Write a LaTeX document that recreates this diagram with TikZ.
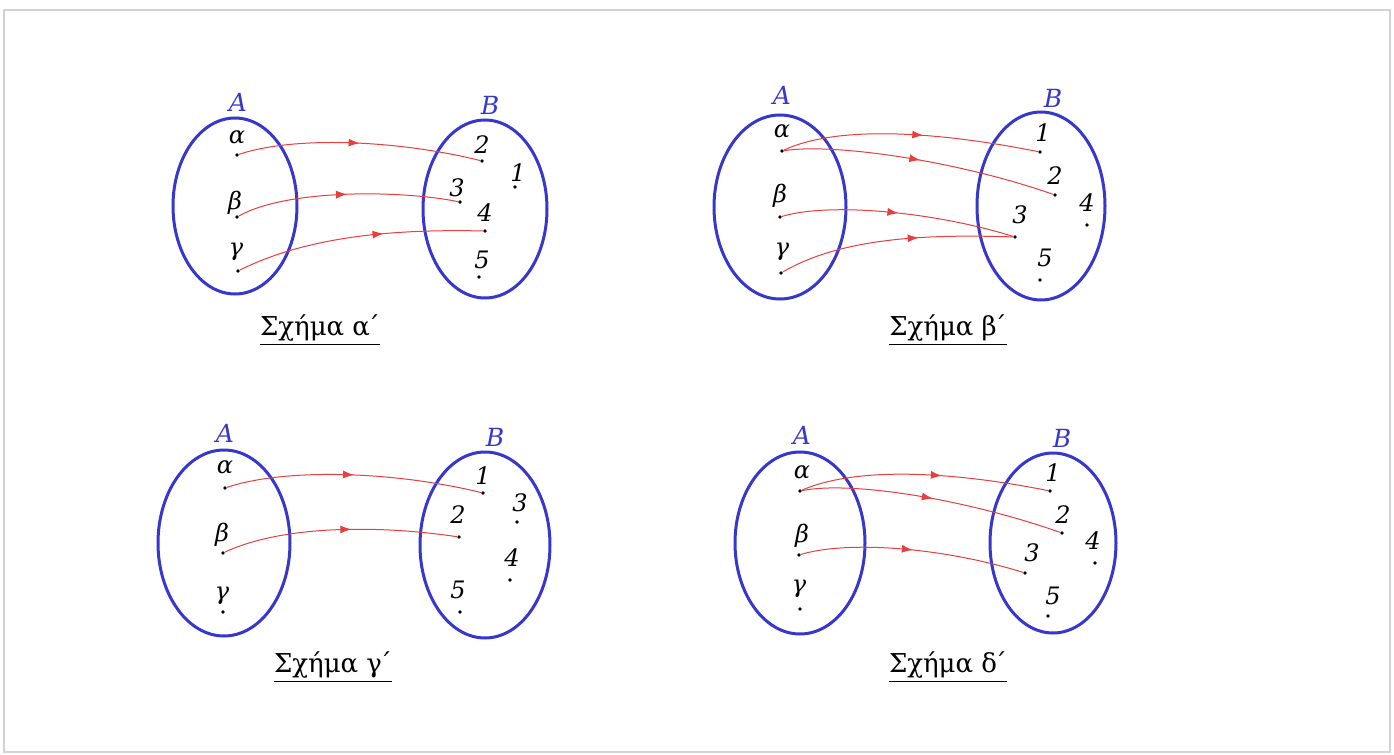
\documentclass[tikz,border=0pt]{standalone}
\usepackage{fontspec}
\setmainfont{DejaVu Serif}
\usetikzlibrary{arrows.meta,positioning,decorations.markings}

\definecolor{setblue}{RGB}{55,55,205}
\definecolor{mapred}{RGB}{232,62,62}
\newcommand{\prim}{\kern-0.12em΄}

\begin{document}
\begin{tikzpicture}[x=0.5pt,y=-0.5pt,
 set/.style={draw=setblue,line width=1.5pt},
 setname/.style={text=setblue,font=\fontsize{12.5}{12.5}\selectfont\itshape,inner sep=0pt},
 dot/.style={circle,fill=black,inner sep=0pt,minimum size=1.8pt},
 elt/.style={font=\fontsize{12}{12}\selectfont\itshape,inner sep=0pt},
 map/.style={mapred,line width=0.5pt,postaction={decorate},
  decoration={markings,mark=at position #1 with {\arrow{Latex[length=5.5pt,width=4pt]}}}},
 map/.default=0.5,
 caption/.style={font=\fontsize{13}{13}\selectfont,inner sep=0pt}]
\useasboundingbox (0,0) rectangle (1394,755);
\draw[gray!35,line width=0.6pt] (4,10) rectangle (1390,752);

% Sxhma a
\draw[set] (235,206) ellipse [x radius=62, y radius=88];
\draw[set] (485,209) ellipse [x radius=62, y radius=89];
\node[setname] (Aa) at (238,102) {A};
\node[setname] (Ba) at (490,105) {B};
\node[dot] (aal) at (237,155) {}; \node[elt] (taal) at (237,137) {α};
\node[dot] (abe) at (237,217) {}; \node[elt] (tabe) at (235,203) {β};
\node[dot] (aga) at (238,271) {}; \node[elt] (taga) at (236,252) {γ};
\node[dot] (a1) at (515,187) {}; \node[elt] (ta1) at (518,173) {1};
\node[dot] (a2) at (482,161) {}; \node[elt] (ta2) at (482,145) {2};
\node[dot] (a3) at (460,202) {}; \node[elt] (ta3) at (457,188) {3};
\node[dot] (a4) at (485,231) {}; \node[elt] (ta4) at (485,213) {4};
\node[dot] (a5) at (479,277) {}; \node[elt] (ta5) at (482,260) {5};
\draw[map] (aal) .. controls +(60,-20) and +(-80,-20) .. (a2);
\draw[map] (abe) .. controls +(50,-28) and +(-60,-12) .. (a3);
\draw[map=0.6] (aga) .. controls +(70,-35) and +(-90,-2) .. (a4);
\node[caption] (capa) at (320,330) {\underline{Σχήμα α\prim}};

% Sxhma b
\draw[set] (780,207) ellipse [x radius=66, y radius=92];
\draw[set] (1041,206) ellipse [x radius=64, y radius=94];
\node[setname] (Ab) at (782,95) {A};
\node[setname] (Bb) at (1053,98) {B};
\node[dot] (bal) at (782,151) {}; \node[elt] (tbal) at (782,131) {α};
\node[dot] (bbe) at (780,217) {}; \node[elt] (tbbe) at (780,196) {β};
\node[dot] (bga) at (781,273) {}; \node[elt] (tbga) at (782,252) {γ};
\node[dot] (b1) at (1040,152) {}; \node[elt] (tb1) at (1043,133) {1};
\node[dot] (b2) at (1055,195) {}; \node[elt] (tb2) at (1055,176) {2};
\node[dot] (b3) at (1015,237) {}; \node[elt] (tb3) at (1020,215) {3};
\node[dot] (b4) at (1087,225) {}; \node[elt] (tb4) at (1087,203) {4};
\node[dot] (b5) at (1040,280) {}; \node[elt] (tb5) at (1045,258) {5};
\draw[map=0.55] (bal) .. controls +(60,-28) and +(-90,-18) .. (b1);
\draw[map] (bal) .. controls +(50,-8) and +(-100,-35) .. (b2);
\draw[map] (bbe) .. controls +(50,-15) and +(-80,-25) .. (b3);
\draw[map=0.6] (bga) .. controls +(60,-35) and +(-90,-3) .. (b3);
\node[caption] (capb) at (948,330) {\underline{Σχήμα β\prim}};

% Sxhma g
\draw[set] (224,543) ellipse [x radius=66, y radius=93];
\draw[set] (485,545) ellipse [x radius=65, y radius=93];
\node[setname] (Ac) at (225,433) {A};
\node[setname] (Bc) at (495,437) {B};
\node[dot] (cal) at (225,488) {}; \node[elt] (tcal) at (225,467) {α};
\node[dot] (cbe) at (223,553) {}; \node[elt] (tcbe) at (222,535) {β};
\node[dot] (cga) at (223,612) {}; \node[elt] (tcga) at (222,596) {γ};
\node[dot] (c1) at (483,493) {}; \node[elt] (tc1) at (483,476) {1};
\node[dot] (c2) at (459,537) {}; \node[elt] (tc2) at (458,515) {2};
\node[dot] (c3) at (517,522) {}; \node[elt] (tc3) at (520,503) {3};
\node[dot] (c4) at (510,580) {}; \node[elt] (tc4) at (512,558) {4};
\node[dot] (c5) at (460,612) {}; \node[elt] (tc5) at (458,590) {5};
\draw[map] (cal) .. controls +(60,-20) and +(-90,-22) .. (c1);
\draw[map=0.55] (cbe) .. controls +(60,-28) and +(-80,-12) .. (c2);
\node[caption] (capc) at (333,667) {\underline{Σχήμα γ\prim}};

% Sxhma d
\draw[set] (800,543) ellipse [x radius=65, y radius=91];
\draw[set] (1053,543) ellipse [x radius=63, y radius=90];
\node[setname] (Ad) at (802,435) {A};
\node[setname] (Bd) at (1062,438) {B};
\node[dot] (dal) at (800,491) {}; \node[elt] (tdal) at (802,472) {α};
\node[dot] (dbe) at (799,555) {}; \node[elt] (tdbe) at (802,536) {β};
\node[dot] (dga) at (800,609) {}; \node[elt] (tdga) at (799,589) {γ};
\node[dot] (d1) at (1050,491) {}; \node[elt] (td1) at (1053,473) {1};
\node[dot] (d2) at (1062,533) {}; \node[elt] (td2) at (1063,515) {2};
\node[dot] (d3) at (1025,573) {}; \node[elt] (td3) at (1032,553) {3};
\node[dot] (d4) at (1095,563) {}; \node[elt] (td4) at (1093,541) {4};
\node[dot] (d5) at (1048,616) {}; \node[elt] (td5) at (1053,596) {5};
\draw[map=0.57] (dal) .. controls +(60,-26) and +(-90,-18) .. (d1);
\draw[map] (dal) .. controls +(50,-10) and +(-100,-35) .. (d2);
\draw[map] (dbe) .. controls +(50,-15) and +(-80,-25) .. (d3);
\node[caption] (capd) at (948,667) {\underline{Σχήμα δ\prim}};
\end{tikzpicture}
\end{document}
